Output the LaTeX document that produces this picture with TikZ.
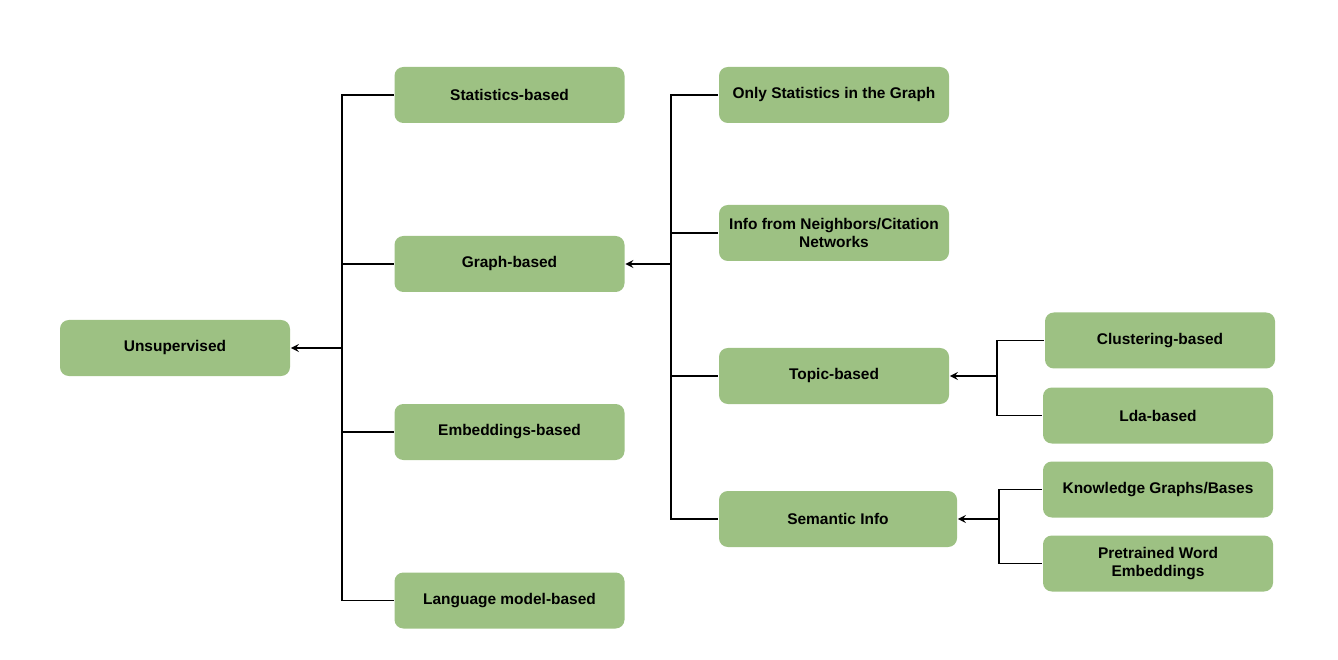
\documentclass[tikz,border=0pt]{standalone}
\usepackage{fontspec}
\setmainfont{Liberation Sans}
\usepackage{tikz}
\usetikzlibrary{positioning}

\definecolor{leafgreen}{RGB}{157,193,131}

\begin{document}
\begin{tikzpicture}[>=stealth,line width=1pt,
    box/.style={draw=none,fill=leafgreen,rounded corners=5pt,minimum width=4.6cm,
      minimum height=1.12cm,align=center,font=\fontsize{8.8}{10.5}\selectfont\bfseries}]
    \useasboundingbox (0,0) rectangle (26.76,-13.2);
    % level 0 and 1
    \node[box] (unsup)   at (3.5,-6.96)   {Unsupervised};
    \node[box] (stat)    at (10.19,-1.9)  {Statistics-based};
    \node[box] (graph)   at (10.19,-5.28) {Graph-based};
    \node[box] (embed)   at (10.19,-8.64) {Embeddings-based};
    \node[box] (lm)      at (10.19,-12.01) {Language model-based};
    % level 2
    \node[box] (onlystat) at (16.68,-1.9)  {Only Statistics in the Graph};
    \node[box] (info)     at (16.68,-4.66) {Info from Neighbors/Citation\\Networks};
    \node[box] (topic)    at (16.68,-7.52) {Topic-based};
    \node[box,minimum width=4.76cm] (sem) at (16.76,-10.38) {Semantic Info};
    % level 3
    \node[box] (clust) at (23.2,-6.81)  {Clustering-based};
    \node[box] (lda)   at (23.16,-8.31) {Lda-based};
    \node[box] (kg)    at (23.16,-9.79) {Knowledge Graphs/Bases};
    \node[box] (pre)   at (23.16,-11.27) {Pretrained Word\\Embeddings};
    % junctions
    \coordinate (j_unsup) at (6.84,-6.96);
    \coordinate (j_graph) at (13.42,-5.28);
    \coordinate (j_topic) at (19.94,-7.52);
    \coordinate (j_sem)   at (19.98,-10.38);
    % unsupervised branch
    \draw (stat.west) -| (j_unsup) |- (lm.west);
    \draw (j_unsup |- graph.west) -- (graph.west);
    \draw (j_unsup |- embed.west) -- (embed.west);
    \draw[->] (j_unsup) -- (unsup.east);
    % graph branch
    \draw (onlystat.west) -| (j_graph) |- (sem.west);
    \draw (j_graph |- info.west) -- (info.west);
    \draw (j_graph |- topic.west) -- (topic.west);
    \draw[->] (j_graph) -- (graph.east);
    % topic branch
    \draw (clust.west) -| (j_topic) |- (lda.west);
    \draw[->] (j_topic) -- (topic.east);
    % semantic branch
    \draw (kg.west) -| (j_sem) |- (pre.west);
    \draw[->] (j_sem) -- (sem.east);
\end{tikzpicture}
\end{document}
